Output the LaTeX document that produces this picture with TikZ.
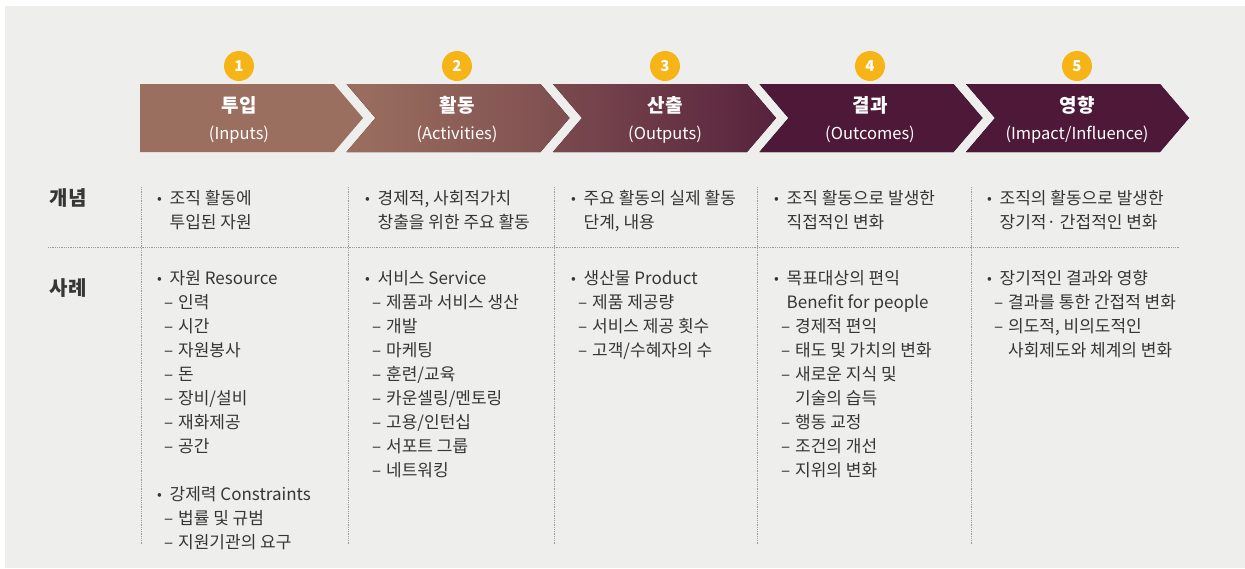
\documentclass[tikz,border=0pt]{standalone}
\usepackage{fontspec}
\setmainfont{Noto Sans CJK KR}
\definecolor{panel}{HTML}{EEEEEC}
\definecolor{rose}{HTML}{9B6F5F}
\definecolor{plum}{HTML}{4E1838}
\definecolor{badgegold}{HTML}{F7B416}
\definecolor{inkgray}{HTML}{363636}
\definecolor{rulegray}{HTML}{9C9C9C}
\newcommand{\bul}[1]{\makebox[12.5pt][l]{\raisebox{0.5pt}{\fontsize{14}{14}\selectfont •}}#1}
\newcommand{\dsh}[1]{\hspace*{7pt}\makebox[14pt][l]{–}#1}
\newcommand{\bcont}[1]{\hspace*{12.5pt}#1}
\newcommand{\dcont}[1]{\hspace*{21pt}#1}

\begin{document}
\begin{tikzpicture}[x=1pt, y=-1pt,
    badge/.style={circle, fill=badgegold, minimum size=30pt, inner sep=0pt,
      text=white, font=\bfseries\fontsize{15}{15}\selectfont},
    stagetext/.style={text=white, align=center, inner sep=0pt,
      font=\fontsize{16.5}{27}\selectfont},
    rowhead/.style={text=inkgray, inner sep=0pt,
      font=\bfseries\fontsize{20}{20}\selectfont},
    cell/.style={anchor=north west, align=left, inner sep=0pt, text=inkgray,
      font=\fontsize{17}{24}\selectfont},
    grid/.style={draw=rulegray, line width=0.7pt, dash pattern=on 0.7pt off 1.1pt}]
  \path[use as bounding box, fill=white] (0,0) rectangle (1245,568);
  \fill[panel] (5,6) rectangle (1245,568);

  % chevrons
  \fill[rose] (140,84) -- (334,84) -- (363,118) -- (334,152) -- (140,152) -- cycle;
  \foreach \l/\lc/\rc in {346.5/rose/rose!62!plum, 553/rose!58!plum/rose!12!plum,
      759.5/plum/plum, 966/plum/plum}
    \fill[left color=\lc, right color=\rc] (\l,84) -- ++(194,0) -- ++(29,34)
      -- ++(-29,34) -- ++(-194,0) -- ++(29,-34) -- cycle;

  \node[badge] (n1) at (239,66) {1};
  \node[badge] (n2) at (457,66) {2};
  \node[badge] (n3) at (665,66) {3};
  \node[badge] (n4) at (870,66) {4};
  \node[badge] (n5) at (1077,66) {5};

  \node[stagetext] (inputs) at (239,120)
    {{\bfseries\fontsize{19}{27}\selectfont 투입}\\(Inputs)};
  \node[stagetext] (activities) at (457,120)
    {{\bfseries\fontsize{19}{27}\selectfont 활동}\\(Activities)};
  \node[stagetext] (outputs) at (665,120)
    {{\bfseries\fontsize{19}{27}\selectfont 산출}\\(Outputs)};
  \node[stagetext] (outcomes) at (870,120)
    {{\bfseries\fontsize{19}{27}\selectfont 결과}\\(Outcomes)};
  \node[stagetext] (impact) at (1077,120)
    {{\bfseries\fontsize{19}{27}\selectfont 영향}\\(Impact/Influence)};

  % table
  \draw[grid] (48,247) -- (1179,247);
  \foreach \x in {141,348,554,757,971}
    \draw[grid] (\x,187) -- (\x,545);

  \node[rowhead] (concept) at (68,198) {개념};
  \node[rowhead] (case) at (68,288) {사례};

  \node[cell] (concept1) at (157,187)
    {\strut\bul{조직 활동에}\\\bcont{투입된 자원}};
  \node[cell] (concept2) at (365,187)
    {\strut\bul{경제적, 사회적가치}\\\bcont{창출을 위한 주요 활동}};
  \node[cell] (concept3) at (571,187)
    {\strut\bul{주요 활동의 실제 활동}\\\bcont{단계, 내용}};
  \node[cell] (concept4) at (774,187)
    {\strut\bul{조직 활동으로 발생한}\\\bcont{직접적인 변화}};
  \node[cell] (concept5) at (987,187)
    {\strut\bul{조직의 활동으로 발생한}\\\bcont{장기적· 간접적인 변화}};

  \node[cell] (case1) at (157,267)
    {\strut\bul{자원 Resource}\\\dsh{인력}\\\dsh{시간}\\\dsh{자원봉사}\\\dsh{돈}\\
     \dsh{장비/설비}\\\dsh{재화제공}\\\dsh{공간}\\[24pt]
     \bul{강제력 Constraints}\\\dsh{법률 및 규범}\\\dsh{지원기관의 요구}};
  \node[cell] (case2) at (365,267)
    {\strut\bul{서비스 Service}\\\dsh{제품과 서비스 생산}\\\dsh{개발}\\\dsh{마케팅}\\
     \dsh{훈련/교육}\\\dsh{카운셀링/멘토링}\\\dsh{고용/인턴십}\\\dsh{서포트 그룹}\\
     \dsh{네트워킹}};
  \node[cell] (case3) at (571,267)
    {\strut\bul{생산물 Product}\\\dsh{제품 제공량}\\\dsh{서비스 제공 횟수}\\
     \dsh{고객/수혜자의 수}};
  \node[cell] (case4) at (774,267)
    {\strut\bul{목표대상의 편익}\\\bcont{Benefit for people}\\\dsh{경제적 편익}\\
     \dsh{태도 및 가치의 변화}\\\dsh{새로운 지식 및}\\\dcont{기술의 습득}\\
     \dsh{행동 교정}\\\dsh{조건의 개선}\\\dsh{지위의 변화}};
  \node[cell] (case5) at (987,267)
    {\strut\bul{장기적인 결과와 영향}\\\dsh{결과를 통한 간접적 변화}\\
     \dsh{의도적, 비의도적인}\\\dcont{사회제도와 체계의 변화}};
\end{tikzpicture}
\end{document}
